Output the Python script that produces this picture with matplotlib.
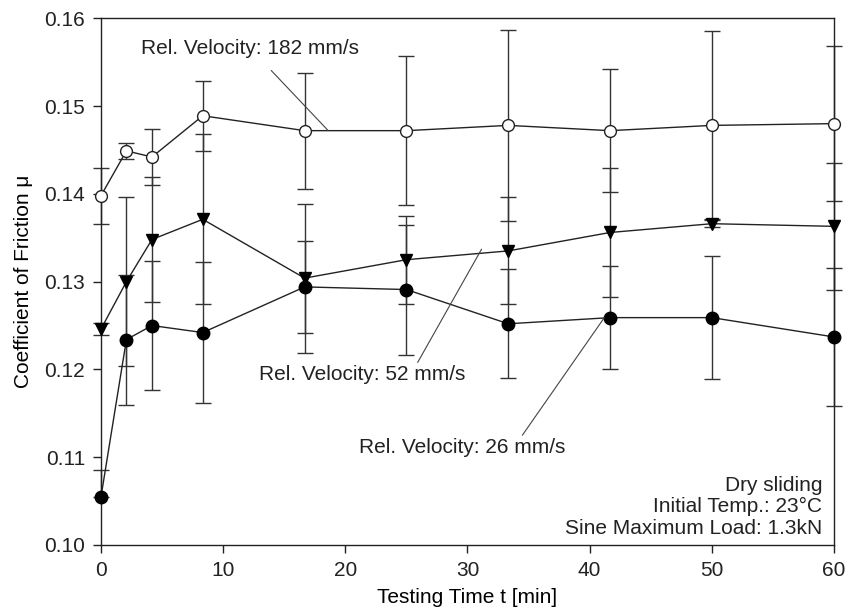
import matplotlib
matplotlib.use("Agg")
from matplotlib import pyplot as plt

plt.rcParams['font.family'] = ['Liberation Sans', 'DejaVu Sans']

# Testing time [min]
t = [0, 2.08, 4.17, 8.33, 16.67, 25, 33.33, 41.67, 50, 60]

# Rel. velocity 182 mm/s (open circles)
mu_182 = [0.1398, 0.1449, 0.1442, 0.1489, 0.1472, 0.1472, 0.1478, 0.1472, 0.1478, 0.1480]
err_182 = [0.0032, 0.0009, 0.0032, 0.0040, 0.0066, 0.0085, 0.0109, 0.0070, 0.0107, 0.0088]

# Rel. velocity 52 mm/s (filled triangles)
mu_52 = [0.1246, 0.1300, 0.1348, 0.1371, 0.1304, 0.1325, 0.1335, 0.1356, 0.1366, 0.1363]
err_52 = [0.0007, 0.0096, 0.0071, 0.0097, 0.0085, 0.0050, 0.0061, 0.0073, 0.0004, 0.0072]

# Rel. velocity 26 mm/s (filled circles)
mu_26 = [0.1055, 0.1234, 0.1250, 0.1242, 0.1294, 0.1291, 0.1252, 0.1259, 0.1259, 0.1237]
err_26_lo = [0.0000, 0.0074, 0.0074, 0.0080, 0.0052, 0.0074, 0.0062, 0.0059, 0.0070, 0.0079]
err_26_hi = [0.0030, 0.0074, 0.0074, 0.0080, 0.0052, 0.0074, 0.0062, 0.0059, 0.0070, 0.0079]

fig = plt.figure(figsize=(8.46, 6.14), dpi=100)
ax = fig.add_axes([0.1194, 0.1124, 0.8664, 0.8578])

eb = dict(fmt='none', ecolor='#333333', elinewidth=1.0, capsize=6, capthick=1.0, zorder=1)
for mu, err in [(mu_182, err_182), (mu_52, err_52), (mu_26, [err_26_lo, err_26_hi])]:
    cont = ax.errorbar(t, mu, yerr=err, **eb)
    for art in cont.lines[1] + cont.lines[2]:
        art.set_clip_on(False)

ax.plot(t, mu_182, '-o', color='#222222', lw=1.0, ms=8.5, mfc='white', mec='#222222',
        mew=1.0, zorder=3, clip_on=False)
ax.plot(t, mu_52, '-v', color='#222222', lw=1.0, ms=9, mfc='black', mec='black',
        zorder=3, clip_on=False)
ax.plot(t, mu_26, '-o', color='#222222', lw=1.0, ms=9, mfc='black', mec='black',
        zorder=3, clip_on=False)

ax.set_xlim(0, 60)
ax.set_ylim(0.10, 0.16)
ax.set_xticks([0, 10, 20, 30, 40, 50, 60])
ax.set_yticks([0.10, 0.11, 0.12, 0.13, 0.14, 0.15, 0.16])
ax.set_yticklabels(['0.10', '0.11', '0.12', '0.13', '0.14', '0.15', '0.16'])
ax.tick_params(direction='out', length=5.5, width=1, labelsize=15, colors='#222222', pad=6)
for s in ax.spines.values():
    s.set_linewidth(1.0)
    s.set_color('#222222')

ax.set_xlabel("Testing Time t [min]", fontsize=15, labelpad=6)
ax.set_ylabel("Coefficient of Friction \u03bc", fontsize=15, labelpad=8)

# annotations
ann = dict(fontsize=15, color='#222222', ha='center', va='center')
line = dict(arrowstyle='-', color='#444444', lw=0.8)
ax.annotate("Rel. Velocity: 182 mm/s", xy=(18.6, 0.1472), xytext=(12.2, 0.1566),
            arrowprops=dict(line, shrinkA=10, shrinkB=0), **ann)
ax.annotate("Rel. Velocity: 52 mm/s", xy=(31.15, 0.1337), xytext=(21.4, 0.1194),
            arrowprops=dict(line, shrinkA=0, shrinkB=0, relpos=(0.76, 1.0)), **ann)
ax.annotate("Rel. Velocity: 26 mm/s", xy=(41.2, 0.1259), xytext=(29.6, 0.1111),
            arrowprops=dict(line, shrinkA=0, shrinkB=0, relpos=(0.78, 1.0)), **ann)

ax.text(0.984, 0.014, "Dry sliding\nInitial Temp.: 23\u00b0C\nSine Maximum Load: 1.3kN",
        transform=ax.transAxes, ha='right', va='bottom', fontsize=15,
        color='#222222', linespacing=1.15)

fig.savefig("out.png", dpi=100)
